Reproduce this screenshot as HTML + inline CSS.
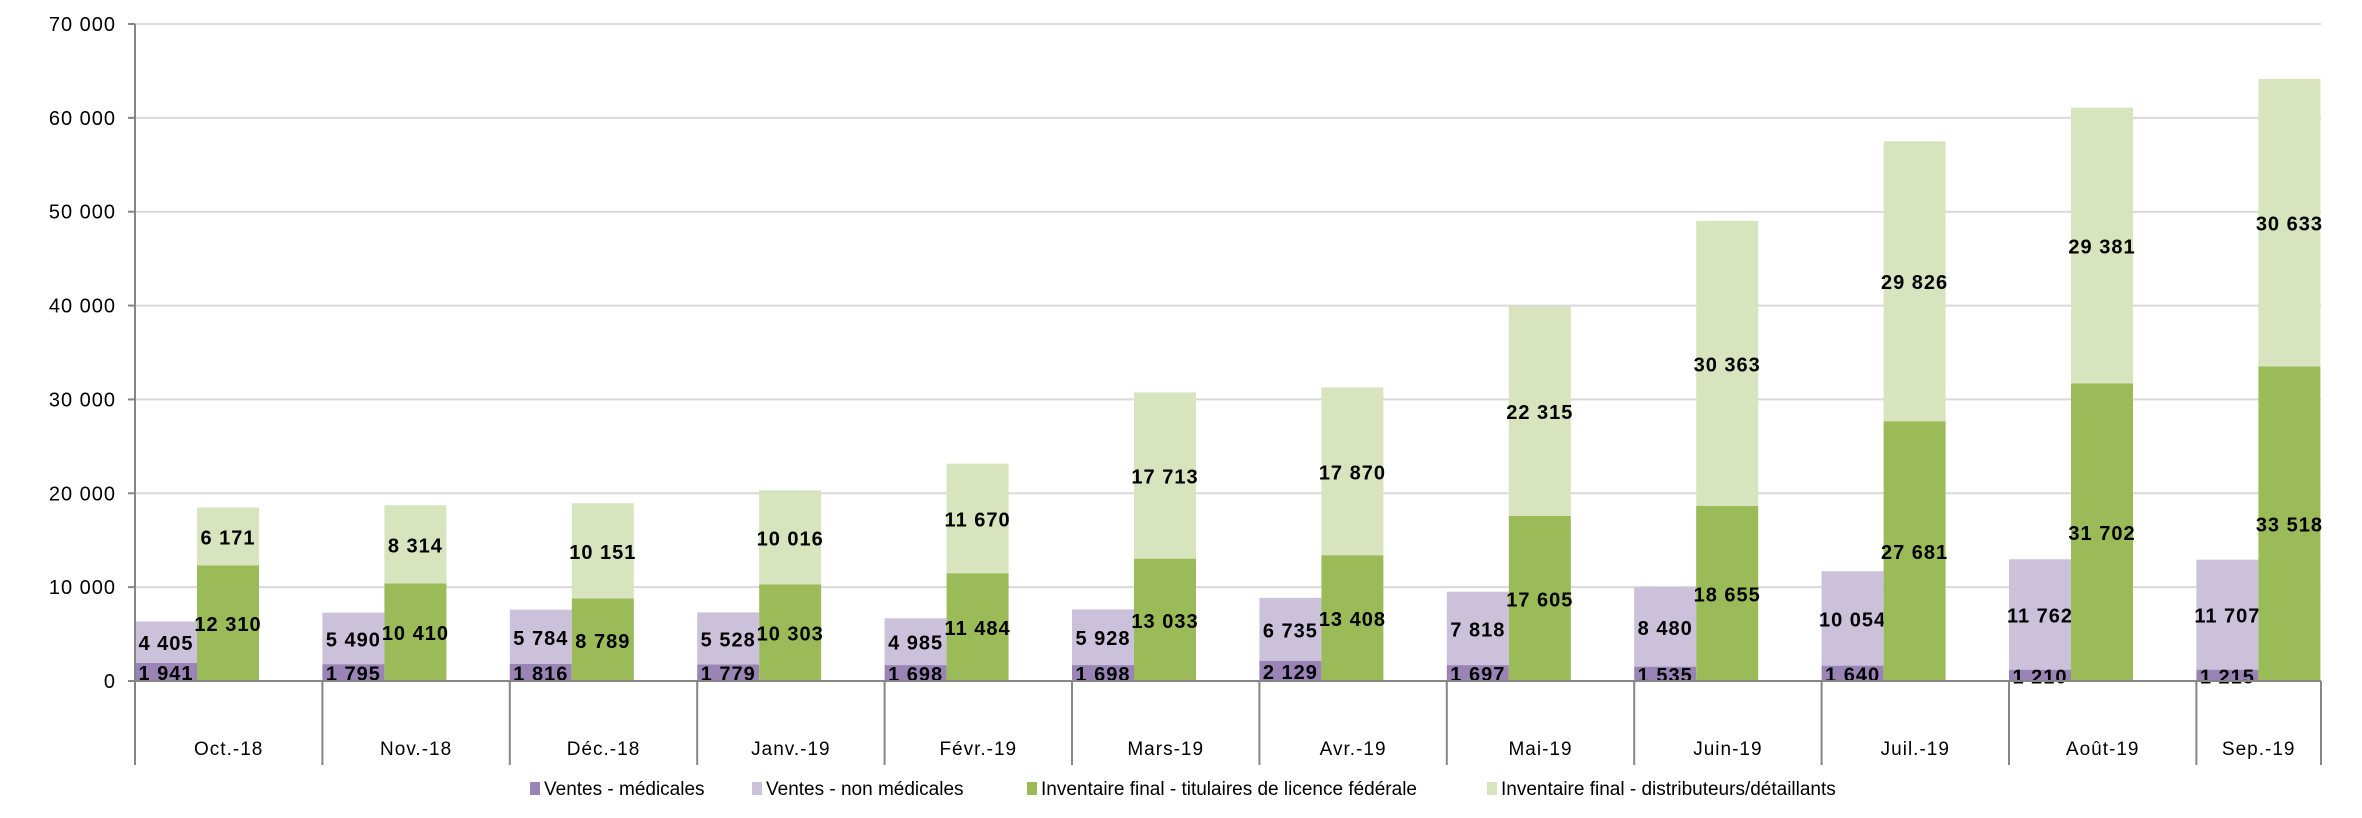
<!DOCTYPE html>
<html><head><meta charset="utf-8">
<style>
html,body{margin:0;padding:0;background:#fff;}
svg{display:block;font-family:"Liberation Sans",sans-serif;}
</style></head>
<body>
<svg id="chart" width="2362" height="818" viewBox="0 0 2362 818"></svg>
<script>
const categories = ["Oct.-18","Nov.-18","Déc.-18","Janv.-19","Févr.-19","Mars-19","Avr.-19","Mai-19","Juin-19","Juil.-19","Août-19","Sep.-19"];
const ventesMedicales = [1941,1795,1816,1779,1698,1698,2129,1697,1535,1640,1210,1215];
const ventesNonMedicales = [4405,5490,5784,5528,4985,5928,6735,7818,8480,10054,11762,11707];
const invFederal = [12310,10410,8789,10303,11484,13033,13408,17605,18655,27681,31702,33518];
const invDistrib = [6171,8314,10151,10016,11670,17713,17870,22315,30363,29826,29381,30633];
const yTicks = [0,10000,20000,30000,40000,50000,60000,70000];
const legendLabels = ["Ventes - médicales","Ventes - non médicales","Inventaire final - titulaires de licence fédérale","Inventaire final - distributeurs/détaillants"];

const NS="http://www.w3.org/2000/svg";
const svg=document.getElementById('chart');
const X0=135, CW=187.4, XR=2321, Y0=681, YT=24, YMAX=70000, BW=62;
function y(v){return Y0-(v/YMAX)*(Y0-YT);}
function cx(i){return X0+i*CW;}
function fmt(v){return String(v).replace(/\B(?=(\d{3})+(?!\d))/g,' ');}
function el(tag,attrs,parent){const e=document.createElementNS(NS,tag);for(const k in attrs)e.setAttribute(k,attrs[k]);(parent||svg).appendChild(e);return e;}

yTicks.forEach(t=>{
  if(t>0){const g=el('line',{x1:X0,x2:XR,y1:y(t),y2:y(t),stroke:'#d9d9d9','stroke-width':2});
  
  }
  const tk=el('line',{x1:128,x2:X0,y1:y(t),y2:y(t),stroke:'#868686','stroke-width':2});
  
  
  const tx=el('text',{x:116,y:y(t)+7,'text-anchor':'end','font-size':20,'letter-spacing':1,fill:'#000'});
  tx.textContent=fmt(t);
  
  
});

const colors=['#9a84b6','#ccc1da','#9bbb59','#d7e4bd'];
categories.forEach((c,i)=>{
  const x=cx(i);
  const segs1=[[ventesMedicales[i],0],[ventesNonMedicales[i],1]];
  const segs2=[[invFederal[i],2],[invDistrib[i],3]];
  [[segs1,x],[segs2,x+BW]].forEach(([segs,bx])=>{
    let base=0;
    segs.forEach(([v,ci])=>{
      const r=el('rect',{x:bx,y:y(base+v),width:BW,height:y(base)-y(base+v),fill:colors[ci]});
      
      
      const t=el('text',{x:bx+BW/2,y:(y(base)+y(base+v))/2+8,'text-anchor':'middle','font-size':20,'letter-spacing':1,'font-weight':'bold',fill:'#000'});
      t.textContent=fmt(v);
      
      
      base+=v;
    });
  });
  const s=el('line',{x1:x,x2:x,y1:Y0,y2:765,stroke:'#868686','stroke-width':2});
  
  
  const right=Math.min(x+CW,XR);
  const lb=el('text',{x:(x+right)/2,y:755,'text-anchor':'middle','font-size':19,'letter-spacing':1,fill:'#000'});
  lb.textContent=c;
  
  
});
const se=el('line',{x1:XR,x2:XR,y1:Y0,y2:765,stroke:'#868686','stroke-width':2});


const ya=el('line',{x1:X0,x2:X0,y1:YT,y2:765,stroke:'#868686','stroke-width':2});


const xa=el('line',{x1:128,x2:XR,y1:Y0,y2:Y0,stroke:'#868686','stroke-width':2});



const lx=[530,752,1027,1487];
legendLabels.forEach((l,i)=>{
  const g=el('g',{});
  
  
  el('rect',{x:lx[i],y:782,width:10,height:13,fill:colors[i]},g);
  const t=el('text',{x:lx[i]+14,y:795,'font-size':19,fill:'#000'},g);
  t.textContent=l;
});
</script>
</body></html>
